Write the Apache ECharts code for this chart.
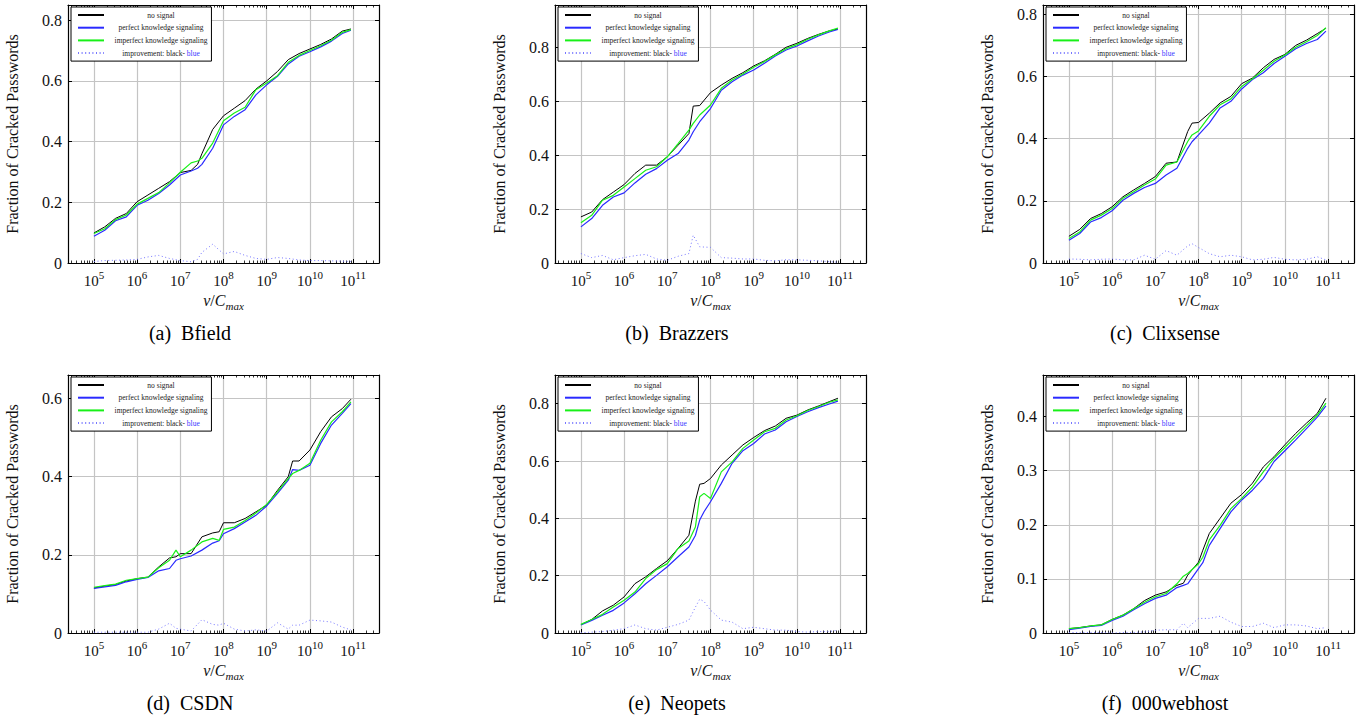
<!DOCTYPE html>
<html>
<head>
<meta charset="utf-8">
<script src="https://cdn.jsdelivr.net/npm/echarts@6/dist/echarts.min.js"></script>
<style>
html, body { margin: 0; padding: 0; background: #fff; }
#chart { width: 1364px; height: 719px; }
</style>
</head>
<body>
<div id="chart"></div>
<script>
// legend entries (same four curves in every panel)
const seriesNames = ['no signal', 'perfect knowledge signaling', 'imperfect knowledge signaling', 'improvement: black- blue'];

// x is log10(v / C_max)
const xTickExps = [5, 6, 7, 8, 9, 10, 11];
const yTicks08 = [0, 0.2, 0.4, 0.6, 0.8];
const yTicks06 = [0, 0.2, 0.4, 0.6];
const yTicks04 = [0, 0.1, 0.2, 0.3, 0.4];

// (a) Bfield
const bfieldExp = [5, 5.25, 5.5, 5.75, 6, 6.25, 6.5, 6.75, 7, 7.25, 7.4, 7.5, 7.75, 8, 8.25, 8.5, 8.75, 9, 9.25, 9.5, 9.75, 10, 10.25, 10.5, 10.75, 10.95];
const bfieldNoSignal = [0.099, 0.119, 0.147, 0.163, 0.202, 0.224, 0.246, 0.268, 0.298, 0.305, 0.325, 0.36, 0.44, 0.485, 0.51, 0.535, 0.573, 0.60, 0.631, 0.67, 0.69, 0.705, 0.72, 0.738, 0.764, 0.771];
const bfieldPerfect = [0.088, 0.108, 0.139, 0.152, 0.19, 0.207, 0.229, 0.257, 0.29, 0.303, 0.312, 0.325, 0.378, 0.455, 0.483, 0.505, 0.554, 0.587, 0.615, 0.656, 0.681, 0.696, 0.712, 0.731, 0.756, 0.767];
const bfieldImperfect = [0.097, 0.113, 0.143, 0.158, 0.194, 0.213, 0.232, 0.264, 0.299, 0.33, 0.336, 0.345, 0.395, 0.469, 0.494, 0.513, 0.571, 0.593, 0.617, 0.661, 0.684, 0.70, 0.716, 0.734, 0.76, 0.769];
const bfieldImprovement = [0.005, 0.008, 0.009, 0.01, 0.012, 0.02, 0.025, 0.015, 0.008, 0.004, 0.012, 0.035, 0.062, 0.03, 0.038, 0.025, 0.015, 0.012, 0.018, 0.015, 0.01, 0.008, 0.008, 0.007, 0.006, 0.005];

// (b) Brazzers
const brazzersExp = [5, 5.25, 5.5, 5.75, 6, 6.25, 6.5, 6.75, 7, 7.25, 7.5, 7.6, 7.75, 8, 8.25, 8.5, 8.75, 9, 9.25, 9.5, 9.75, 10, 10.25, 10.5, 10.75, 10.95];
const brazzersNoSignal = [0.171, 0.189, 0.235, 0.263, 0.291, 0.332, 0.363, 0.363, 0.394, 0.437, 0.48, 0.582, 0.584, 0.632, 0.66, 0.685, 0.706, 0.731, 0.75, 0.774, 0.80, 0.815, 0.833, 0.848, 0.861, 0.868];
const brazzersPerfect = [0.134, 0.165, 0.214, 0.245, 0.26, 0.297, 0.329, 0.35, 0.381, 0.406, 0.456, 0.487, 0.524, 0.573, 0.641, 0.672, 0.697, 0.716, 0.741, 0.768, 0.79, 0.805, 0.824, 0.842, 0.857, 0.866];
const brazzersImperfect = [0.149, 0.177, 0.233, 0.251, 0.282, 0.313, 0.344, 0.357, 0.394, 0.443, 0.493, 0.518, 0.549, 0.586, 0.648, 0.679, 0.701, 0.726, 0.747, 0.772, 0.795, 0.81, 0.83, 0.846, 0.861, 0.871];
const brazzersImprovement = [0.035, 0.02, 0.028, 0.012, 0.02, 0.027, 0.032, 0.015, 0.01, 0.025, 0.035, 0.103, 0.06, 0.058, 0.02, 0.018, 0.015, 0.015, 0.01, 0.008, 0.012, 0.012, 0.01, 0.008, 0.005, 0.003];

// (c) Clixsense
const clixsenseExp = [5, 5.25, 5.5, 5.75, 6, 6.25, 6.5, 6.75, 7, 7.25, 7.5, 7.75, 7.85, 8, 8.25, 8.5, 8.75, 9, 9.25, 9.5, 9.75, 10, 10.25, 10.5, 10.75, 10.95];
const clixsenseNoSignal = [0.086, 0.108, 0.143, 0.159, 0.181, 0.213, 0.235, 0.256, 0.278, 0.321, 0.325, 0.423, 0.45, 0.452, 0.482, 0.515, 0.536, 0.577, 0.595, 0.628, 0.655, 0.671, 0.70, 0.717, 0.738, 0.755];
const clixsensePerfect = [0.073, 0.095, 0.132, 0.146, 0.168, 0.202, 0.224, 0.243, 0.256, 0.283, 0.305, 0.369, 0.39, 0.412, 0.45, 0.499, 0.52, 0.56, 0.59, 0.612, 0.642, 0.665, 0.689, 0.706, 0.719, 0.746];
const clixsenseImperfect = [0.079, 0.10, 0.138, 0.154, 0.175, 0.208, 0.229, 0.251, 0.27, 0.315, 0.325, 0.391, 0.412, 0.425, 0.472, 0.509, 0.528, 0.568, 0.593, 0.62, 0.649, 0.669, 0.694, 0.712, 0.732, 0.757];
const clixsenseImprovement = [0.013, 0.012, 0.01, 0.012, 0.013, 0.01, 0.01, 0.025, 0.012, 0.04, 0.025, 0.055, 0.062, 0.05, 0.03, 0.02, 0.025, 0.02, 0.01, 0.012, 0.018, 0.012, 0.01, 0.012, 0.02, 0.01];

// (d) CSDN
const csdnExp = [5, 5.25, 5.5, 5.75, 6, 6.25, 6.5, 6.75, 6.9, 7, 7.25, 7.5, 7.75, 7.9, 8, 8.25, 8.5, 8.75, 9, 9.25, 9.5, 9.6, 9.75, 10, 10.25, 10.5, 10.75, 10.95];
const csdnNoSignal = [0.115, 0.12, 0.124, 0.133, 0.139, 0.143, 0.169, 0.192, 0.195, 0.203, 0.203, 0.246, 0.256, 0.259, 0.282, 0.282, 0.293, 0.31, 0.327, 0.365, 0.40, 0.44, 0.44, 0.468, 0.515, 0.553, 0.574, 0.598];
const csdnPerfect = [0.114, 0.118, 0.122, 0.131, 0.137, 0.142, 0.159, 0.165, 0.186, 0.19, 0.197, 0.212, 0.23, 0.236, 0.254, 0.267, 0.284, 0.301, 0.325, 0.357, 0.391, 0.418, 0.416, 0.429, 0.485, 0.532, 0.562, 0.587];
const csdnImperfect = [0.117, 0.121, 0.125, 0.135, 0.139, 0.143, 0.167, 0.186, 0.212, 0.195, 0.212, 0.233, 0.242, 0.237, 0.265, 0.271, 0.288, 0.307, 0.329, 0.361, 0.395, 0.408, 0.416, 0.434, 0.493, 0.54, 0.566, 0.591];
const csdnImprovement = [0.002, 0.002, 0.002, 0.002, 0.002, 0.002, 0.01, 0.025, 0.012, 0.01, 0.005, 0.034, 0.022, 0.02, 0.025, 0.01, 0.005, 0.008, 0.005, 0.026, 0.01, 0.02, 0.02, 0.033, 0.031, 0.028, 0.015, 0.008];

// (e) Neopets
const neopetsExp = [5, 5.25, 5.5, 5.75, 6, 6.25, 6.5, 6.75, 7, 7.25, 7.5, 7.65, 7.75, 7.85, 8, 8.25, 8.5, 8.75, 9, 9.25, 9.5, 9.75, 10, 10.25, 10.5, 10.75, 10.95];
const neopetsNoSignal = [0.029, 0.047, 0.077, 0.097, 0.126, 0.172, 0.196, 0.225, 0.252, 0.295, 0.341, 0.46, 0.519, 0.522, 0.539, 0.586, 0.621, 0.656, 0.682, 0.706, 0.722, 0.749, 0.76, 0.778, 0.792, 0.807, 0.819];
const neopetsPerfect = [0.028, 0.044, 0.062, 0.079, 0.105, 0.137, 0.172, 0.201, 0.231, 0.266, 0.30, 0.34, 0.394, 0.423, 0.458, 0.522, 0.592, 0.636, 0.661, 0.694, 0.708, 0.737, 0.755, 0.772, 0.786, 0.799, 0.809];
const neopetsImperfect = [0.03, 0.047, 0.065, 0.091, 0.114, 0.143, 0.19, 0.221, 0.242, 0.295, 0.321, 0.37, 0.475, 0.487, 0.469, 0.562, 0.597, 0.644, 0.673, 0.702, 0.714, 0.743, 0.758, 0.776, 0.79, 0.805, 0.813];
const neopetsImprovement = [0.001, 0.003, 0.005, 0.01, 0.015, 0.028, 0.015, 0.01, 0.02, 0.03, 0.045, 0.09, 0.118, 0.11, 0.08, 0.045, 0.038, 0.015, 0.02, 0.015, 0.01, 0.01, 0.005, 0.003, 0.005, 0.005, 0.01];

// (f) 000webhost
const webhostExp = [5, 5.25, 5.5, 5.75, 6, 6.25, 6.5, 6.75, 7, 7.25, 7.5, 7.65, 7.75, 8, 8.1, 8.25, 8.5, 8.75, 9, 9.25, 9.5, 9.75, 10, 10.25, 10.5, 10.75, 10.95];
const webhostNoSignal = [0.008, 0.01, 0.013, 0.015, 0.025, 0.033, 0.045, 0.06, 0.07, 0.076, 0.088, 0.092, 0.107, 0.131, 0.153, 0.184, 0.212, 0.24, 0.256, 0.277, 0.307, 0.326, 0.348, 0.369, 0.388, 0.406, 0.434];
const webhostPerfect = [0.006, 0.009, 0.012, 0.014, 0.023, 0.031, 0.043, 0.054, 0.064, 0.07, 0.084, 0.088, 0.091, 0.119, 0.13, 0.162, 0.193, 0.224, 0.246, 0.264, 0.286, 0.317, 0.337, 0.357, 0.378, 0.399, 0.42];
const webhostImperfect = [0.008, 0.01, 0.013, 0.015, 0.025, 0.033, 0.045, 0.057, 0.067, 0.073, 0.091, 0.105, 0.11, 0.128, 0.14, 0.172, 0.199, 0.23, 0.249, 0.27, 0.298, 0.323, 0.343, 0.363, 0.383, 0.403, 0.425];
const webhostImprovement = [0.001, 0.001, 0.001, 0.001, 0.0, 0.001, 0.001, 0.002, 0.005, 0.006, 0.006, 0.018, 0.01, 0.027, 0.027, 0.027, 0.031, 0.02, 0.012, 0.012, 0.018, 0.01, 0.015, 0.015, 0.013, 0.008, 0.01];

const panels = [
  { tag: '(a)', name: 'Bfield', exp: bfieldExp, lines: [bfieldNoSignal, bfieldPerfect, bfieldImperfect, bfieldImprovement], yMax: 0.85, yTicks: yTicks08 },
  { tag: '(b)', name: 'Brazzers', exp: brazzersExp, lines: [brazzersNoSignal, brazzersPerfect, brazzersImperfect, brazzersImprovement], yMax: 0.957, yTicks: yTicks08 },
  { tag: '(c)', name: 'Clixsense', exp: clixsenseExp, lines: [clixsenseNoSignal, clixsensePerfect, clixsenseImperfect, clixsenseImprovement], yMax: 0.83, yTicks: yTicks08 },
  { tag: '(d)', name: 'CSDN', exp: csdnExp, lines: [csdnNoSignal, csdnPerfect, csdnImperfect, csdnImprovement], yMax: 0.66, yTicks: yTicks06 },
  { tag: '(e)', name: 'Neopets', exp: neopetsExp, lines: [neopetsNoSignal, neopetsPerfect, neopetsImperfect, neopetsImprovement], yMax: 0.9, yTicks: yTicks08 },
  { tag: '(f)', name: '000webhost', exp: webhostExp, lines: [webhostNoSignal, webhostPerfect, webhostImperfect, webhostImprovement], yMax: 0.477, yTicks: yTicks04 }
];

// layout of the 2x3 panels (plot box corners, px)
const boxLefts = [68, 555, 1043];
const boxTops = [5, 375];
const boxW = 311;
const boxH = 258;

const FONT = 'Liberation Serif, serif';
const INK = '#111';
const lineStyles = [
  { color: '#000000', width: 1 },
  { color: '#2a2aff', width: 1.2 },
  { color: '#18f018', width: 1.2 },
  { color: '#7676ff', width: 1, type: [1, 2.6] }
];

// minor log ticks (2..9 in every decade)
const minorExps = [];
for (let d = 4; d <= 11; d++) {
  for (let k = 2; k <= 9; k++) {
    const v = d + Math.log10(k);
    if (v > 4.4 && v < 11.6) minorExps.push(+v.toFixed(4));
  }
}

const chartDom = document.getElementById('chart');
const myChart = echarts.init(chartDom, null, { renderer: 'svg' });

const xTickRich = {
  b: { fontFamily: FONT, fontSize: 15, color: INK, lineHeight: 16, verticalAlign: 'bottom' },
  s: { fontFamily: FONT, fontSize: 11, color: INK, lineHeight: 10, padding: [0, 0, 8, 0], verticalAlign: 'bottom' }
};
const xNameRich = {
  i: { fontFamily: FONT, fontSize: 16, fontStyle: 'italic', color: INK, lineHeight: 16, verticalAlign: 'top' },
  r: { fontFamily: FONT, fontSize: 16, color: INK, lineHeight: 16, verticalAlign: 'top' },
  s: { fontFamily: FONT, fontSize: 11, fontStyle: 'italic', color: INK, lineHeight: 10, padding: [8, 0, 0, 0], verticalAlign: 'top' }
};
const legendRich = {
  t: { fontFamily: FONT, fontSize: 7.5, color: '#222', align: 'center', lineHeight: 10 },
  b: { fontFamily: FONT, fontSize: 7.5, color: '#3a3aff', align: 'center', lineHeight: 10 }
};

const grids = [], xAxes = [], yAxes = [], series = [], legends = [], captions = [];

panels.forEach((p, i) => {
  const left = boxLefts[i % 3];
  const top = boxTops[Math.floor(i / 3)];
  grids.push({ left: left, top: top, width: boxW, height: boxH, outerBoundsMode: 'none' });

  const xCommon = {
    gridIndex: i, type: 'value', min: 4.4, max: 11.6,
    axisLine: { show: false, onZero: false },
    axisLabel: { show: false },
    splitLine: { show: false }
  };
  // bottom major: labels + grid lines
  xAxes.push(Object.assign({}, xCommon, {
    position: 'bottom',
    axisLine: { show: true, onZero: false, lineStyle: { color: '#000', width: 1.2 } },
    axisTick: { inside: true, length: 4, customValues: xTickExps, lineStyle: { color: '#000', width: 1 } },
    axisLabel: {
      show: true, margin: 9, customValues: xTickExps,
      fontFamily: FONT,
      formatter: v => '{b|10}{s|' + Math.round(v) + '}',
      rich: xTickRich
    },
    splitLine: { show: true, lineStyle: { color: '#c4c4c4', width: 1.2 } },
    name: '{i|v}{r|/}{i|C}{s|max}',
    nameLocation: 'middle', nameGap: 29,
    nameTextStyle: { fontFamily: FONT, rich: xNameRich }
  }));
  // bottom minor ticks
  xAxes.push(Object.assign({}, xCommon, {
    position: 'bottom',
    axisTick: { inside: true, length: 2.5, customValues: minorExps, lineStyle: { color: '#000', width: 0.8 } }
  }));
  // top frame + ticks
  xAxes.push(Object.assign({}, xCommon, {
    position: 'top',
    axisLine: { show: true, onZero: false, lineStyle: { color: '#000', width: 1.2 } },
    axisTick: { inside: true, length: 4, customValues: xTickExps, lineStyle: { color: '#000', width: 1 } }
  }));
  xAxes.push(Object.assign({}, xCommon, {
    position: 'top',
    axisTick: { inside: true, length: 2.5, customValues: minorExps, lineStyle: { color: '#000', width: 0.8 } }
  }));

  const gridTicks = p.yTicks.filter(v => v > 0);
  yAxes.push({
    gridIndex: i, type: 'value', min: 0, max: p.yMax, position: 'left',
    axisLine: { show: true, onZero: false, lineStyle: { color: '#000', width: 1.2 } },
    axisTick: { inside: true, length: 4, customValues: gridTicks, lineStyle: { color: '#000', width: 1 } },
    axisLabel: { customValues: p.yTicks, margin: 6, fontFamily: FONT, fontSize: 16, color: INK },
    splitLine: { show: true, lineStyle: { color: '#c4c4c4', width: 1.2 } },
    name: 'Fraction of Cracked Passwords',
    nameLocation: 'middle', nameGap: 48,
    nameTextStyle: { fontFamily: FONT, fontSize: 16, color: INK }
  });
  // right frame + ticks
  yAxes.push({
    gridIndex: i, type: 'value', min: 0, max: p.yMax, position: 'right',
    axisLine: { show: true, onZero: false, lineStyle: { color: '#000', width: 1.2 } },
    axisTick: { inside: true, length: 4, customValues: gridTicks, lineStyle: { color: '#000', width: 1 } },
    axisLabel: { show: false },
    splitLine: { show: false }
  });

  p.lines.forEach((vals, k) => {
    series.push({
      name: seriesNames[k],
      type: 'line',
      xAxisIndex: i * 4,
      yAxisIndex: i * 2,
      symbol: 'none',
      lineStyle: lineStyles[k],
      itemStyle: { color: lineStyles[k].color },
      z: k === 3 ? 2 : 3 + k,
      data: p.exp.map((x, j) => [x, vals[j]])
    });
  });

  legends.push({
    left: left + 3, top: top + 2, orient: 'vertical',
    data: seriesNames,
    selectedMode: false,
    backgroundColor: '#fff', borderColor: '#000', borderWidth: 1,
    padding: [4, 4, 4, 6],
    itemWidth: 26, itemHeight: 10, itemGap: 4.7,
    itemStyle: { opacity: 0, borderWidth: 0 },
    formatter: name => name === seriesNames[3]
      ? '{t|improvement: black- }{b|blue}'
      : '{t|' + name + '}',
    textStyle: { width: 104, fontFamily: FONT, rich: legendRich }
  });

  captions.push({
    type: 'text',
    x: left + 122, y: top + 328,
    style: {
      text: p.tag + '\u2002' + p.name, fontFamily: FONT, fontSize: 20, fill: '#000',
      align: 'center', verticalAlign: 'middle',
      textAlign: 'center', textVerticalAlign: 'middle'
    }
  });
});

const option = {
  animation: false,
  backgroundColor: '#fff',
  textStyle: { fontFamily: FONT },
  grid: grids,
  xAxis: xAxes,
  yAxis: yAxes,
  legend: legends,
  graphic: captions,
  series: series
};

myChart.setOption(option);
</script>
</body>
</html>
